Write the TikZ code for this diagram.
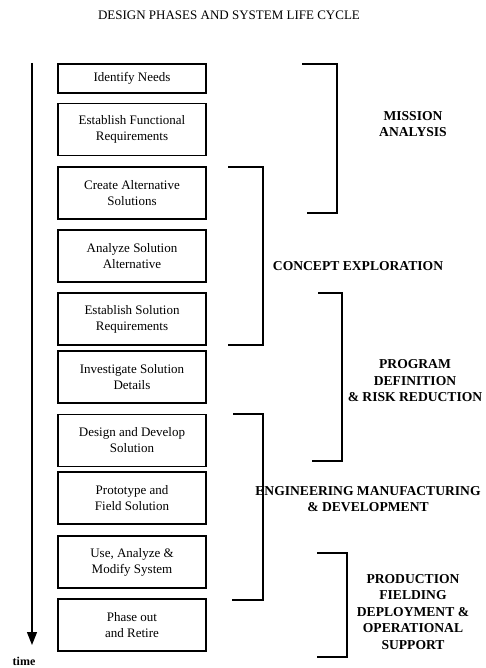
\documentclass[tikz,border=0pt]{standalone}
\usepackage{fontspec}
\setmainfont{Liberation Serif}
\usepackage{tikz}
\usetikzlibrary{arrows.meta, positioning}

\begin{document}
\begin{tikzpicture}[x=1pt, y=-1pt, >=Triangle,
    phasebox/.style={draw, line width=1.1pt, minimum width=148pt, minimum height=52pt,
        align=center, font=\fontsize{13}{16}\selectfont, inner sep=2pt},
    phaselabel/.style={align=center, font=\fontsize{13.6}{16.5}\selectfont\bfseries},
    bracket/.style={line width=1.1pt}]
    \useasboundingbox (0,0) rectangle (485,668);

    % title
    \node[font=\fontsize{13}{15}\selectfont] (title) at (229,15) {DESIGN PHASES AND SYSTEM LIFE CYCLE};

    % time axis
    \coordinate (T0) at (32,63);
    \coordinate (T1) at (32,645);
    \draw[line width=1.3pt, -{Triangle[length=13pt, width=10pt]}] (T0) -- (T1);
    \node[font=\fontsize{12}{14}\selectfont\bfseries] (time) at (24,661) {time};

    % life cycle steps
    \node[phasebox, minimum height=29pt] (needs) at (132,78.5) {Identify Needs};
    \node[phasebox] (funreq) at (132,129.5) {Establish Functional\\Requirements};
    \node[phasebox] (altsol) at (132,193) {Create Alternative\\Solutions};
    \node[phasebox] (anasol) at (132,256) {Analyze Solution\\Alternative};
    \node[phasebox] (solreq) at (132,319) {Establish Solution\\Requirements};
    \node[phasebox] (invsol) at (132,377) {Investigate Solution\\Details};
    \node[phasebox] (design) at (132,440.5) {Design and Develop\\Solution};
    \node[phasebox] (proto) at (132,498) {Prototype and\\Field Solution};
    \node[phasebox] (usesys) at (132,562) {Use, Analyze \&\\Modify System};
    \node[phasebox] (retire) at (132,625) {Phase out\\and Retire};

    % phase brackets
    \draw[bracket] (302,64) -- (337,64) -- (337,213) -- (307,213);
    \draw[bracket] (228,167) -- (263,167) -- (263,345) -- (228,345);
    \draw[bracket] (318,293) -- (342,293) -- (342,461) -- (312,461);
    \draw[bracket] (233,414) -- (263,414) -- (263,600) -- (232,600);
    \draw[bracket] (317,553) -- (347,553) -- (347,657) -- (317,657);

    % phase names
    \node[phaselabel] (mission) at (413,124) {MISSION\\ANALYSIS};
    \node[phaselabel] (concept) at (358,266) {CONCEPT EXPLORATION};
    \node[phaselabel] (program) at (415,381) {PROGRAM\\DEFINITION\\\& RISK REDUCTION};
    \node[phaselabel] (engmfg) at (368,499) {ENGINEERING MANUFACTURING\\\& DEVELOPMENT};
    \node[phaselabel] (prodsup) at (413,612) {PRODUCTION\\FIELDING\\DEPLOYMENT \&\\OPERATIONAL\\SUPPORT};
\end{tikzpicture}
\end{document}
